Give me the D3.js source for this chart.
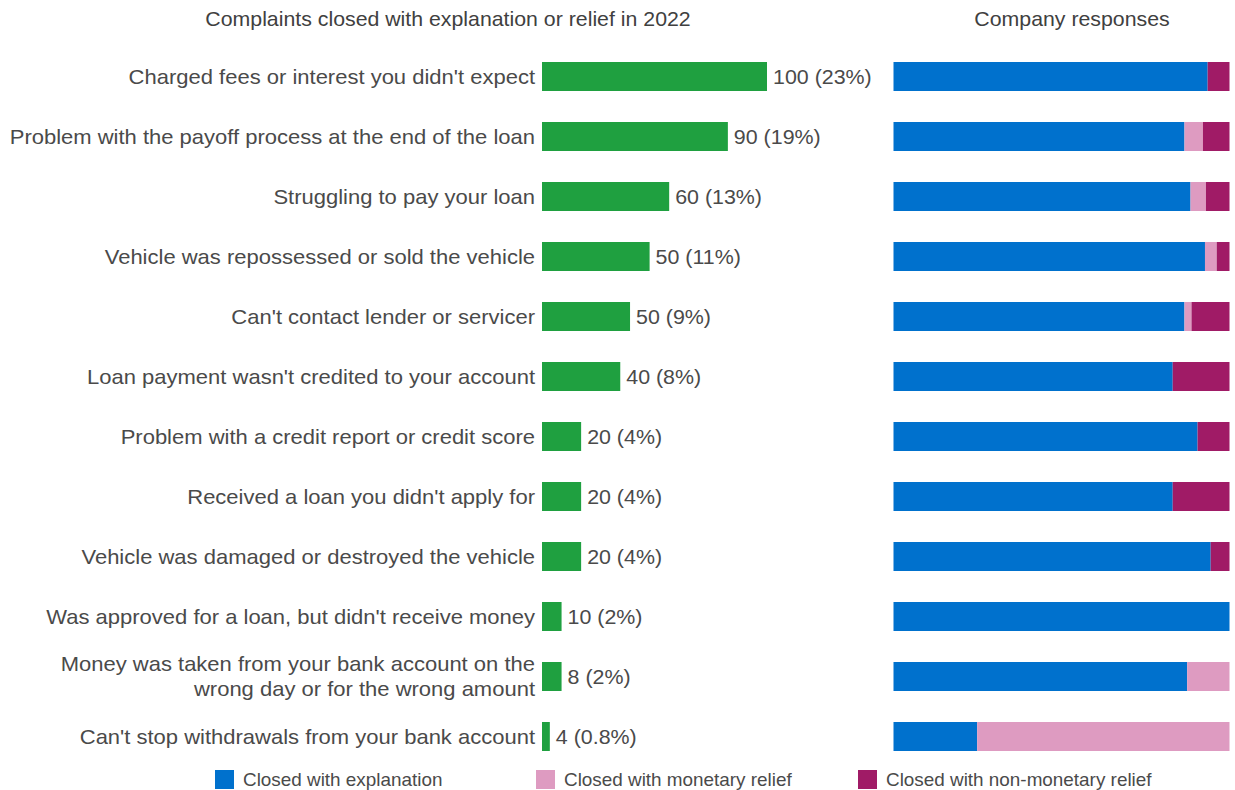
<!DOCTYPE html>
<html>
<head>
<meta charset="utf-8">
<script src="https://cdn.jsdelivr.net/npm/d3@7"></script>
<style>
  html, body { margin: 0; padding: 0; background: #fff; }
  svg { display: block; font-family: "Liberation Sans", Arial, sans-serif; }
</style>
</head>
<body>
<svg id="chart" width="1235" height="790"></svg>
<script>
// Complaint issues, most frequent first
const issues = [
  "Charged fees or interest you didn't expect",
  "Problem with the payoff process at the end of the loan",
  "Struggling to pay your loan",
  "Vehicle was repossessed or sold the vehicle",
  "Can't contact lender or servicer",
  "Loan payment wasn't credited to your account",
  "Problem with a credit report or credit score",
  "Received a loan you didn't apply for",
  "Vehicle was damaged or destroyed the vehicle",
  "Was approved for a loan, but didn't receive money",
  "Money was taken from your bank account on the\nwrong day or for the wrong amount",
  "Can't stop withdrawals from your bank account"
];
// Complaint counts and their share of all complaints (%)
const counts = [100, 90, 60, 50, 50, 40, 20, 20, 20, 10, 8, 4];
const shares = [23, 19, 13, 11, 9, 8, 4, 4, 4, 2, 2, 0.8];

// Company responses, % of each issue's complaints
const responseTypes = ["Closed with explanation", "Closed with monetary relief", "Closed with non-monetary relief"];
const explanation = [93.5, 86.6, 88.4, 92.7, 86.6, 83.1, 90.5, 83.1, 94.4, 100, 87.4, 24.9];
const monetary    = [0,    5.5,  4.6,  3.5,  2.1,  0,    0,    0,    0,    0,   12.6, 75.1];
const nonMonetary = [6.5,  7.9,  7.0,  3.8,  11.3, 16.9, 9.5,  16.9, 5.6,  0,   0,    0];

const titles = ["Complaints closed with explanation or relief in 2022", "Company responses"];

const colors = ["#0071cd", "#de9bc1", "#a01b66"];
const green = "#1fa040";
const textColor = "#4a4a4a";
const wide = 1.1; // horizontal stretch of the label type

const svg = d3.select("#chart");

const y = d3.scaleBand()
  .domain(issues)
  .range([46.5, 766.5])
  .paddingInner(31 / 60)
  .paddingOuter(31 / 120);
const cy = d => y(d) + y.bandwidth() / 2;

// Left panel: share of complaints
const x = d3.scaleLinear().domain([0, 23]).range([542, 767]);

const left = svg.append("g");

left.selectAll("rect")
  .data(issues)
  .join("rect")
  .attr("x", x(0))
  .attr("y", d => y(d))
  .attr("width", (d, i) => x(shares[i]) - x(0))
  .attr("height", y.bandwidth())
  .attr("fill", green);

left.selectAll("g.value")
  .data(issues)
  .join("g")
  .attr("class", "value")
  .attr("transform", (d, i) => `translate(${x(shares[i]) + 6},${cy(d)}) scale(1.07,1)`)
  .append("text")
  .attr("dy", "0.35em")
  .attr("font-size", 20)
  .attr("fill", textColor)
  .text((d, i) => `${counts[i]} (${shares[i]}%)`);

// Category labels, right-aligned against the bars
const labels = left.selectAll("g.cat")
  .data(issues)
  .join("g")
  .attr("class", "cat")
  .attr("transform", d => `translate(535,${cy(d)}) scale(${wide},1)`)
  .append("text")
  .attr("text-anchor", "end")
  .attr("font-size", 20)
  .attr("fill", textColor);

labels.each(function(d) {
  const lines = d.split("\n");
  const lh = 24.5;
  const t = d3.select(this);
  lines.forEach((ln, k) => {
    t.append("tspan")
      .attr("x", 0)
      .attr("y", (k - (lines.length - 1) / 2) * lh)
      .attr("dy", "0.35em")
      .text(ln);
  });
});

// Right panel: stacked response mix
const rows = issues.map((d, i) => ({
  issue: d,
  [responseTypes[0]]: explanation[i],
  [responseTypes[1]]: monetary[i],
  [responseTypes[2]]: nonMonetary[i]
}));
const stacked = d3.stack().keys(responseTypes)(rows);
const xr = d3.scaleLinear().domain([0, 100]).range([893.5, 1229.5]);
const color = d3.scaleOrdinal().domain(responseTypes).range(colors);

svg.append("g")
  .selectAll("g")
  .data(stacked)
  .join("g")
  .attr("fill", s => color(s.key))
  .selectAll("rect")
  .data(s => s)
  .join("rect")
  .attr("x", d => xr(d[0]))
  .attr("y", d => y(d.data.issue))
  .attr("width", d => xr(d[1]) - xr(d[0]))
  .attr("height", y.bandwidth());

// Panel titles
const titleX = [448, 1072];
svg.append("g")
  .selectAll("g")
  .data(titles)
  .join("g")
  .attr("transform", (d, i) => `translate(${titleX[i]},26) scale(1.065,1)`)
  .append("text")
  .attr("text-anchor", "middle")
  .attr("font-size", 20)
  .attr("fill", "#404040")
  .text(d => d);

// Legend
const legendX = [215, 536, 858];
const legend = svg.append("g")
  .selectAll("g")
  .data(responseTypes)
  .join("g")
  .attr("transform", (d, i) => `translate(${legendX[i]},770)`);
legend.append("rect")
  .attr("width", 19).attr("height", 19)
  .attr("fill", d => color(d));
legend.append("g")
  .attr("transform", "translate(28,9.5) scale(1.05,1)")
  .append("text")
  .attr("dy", "0.35em")
  .attr("font-size", 18)
  .attr("fill", textColor)
  .text(d => d);
</script>
</body>
</html>
